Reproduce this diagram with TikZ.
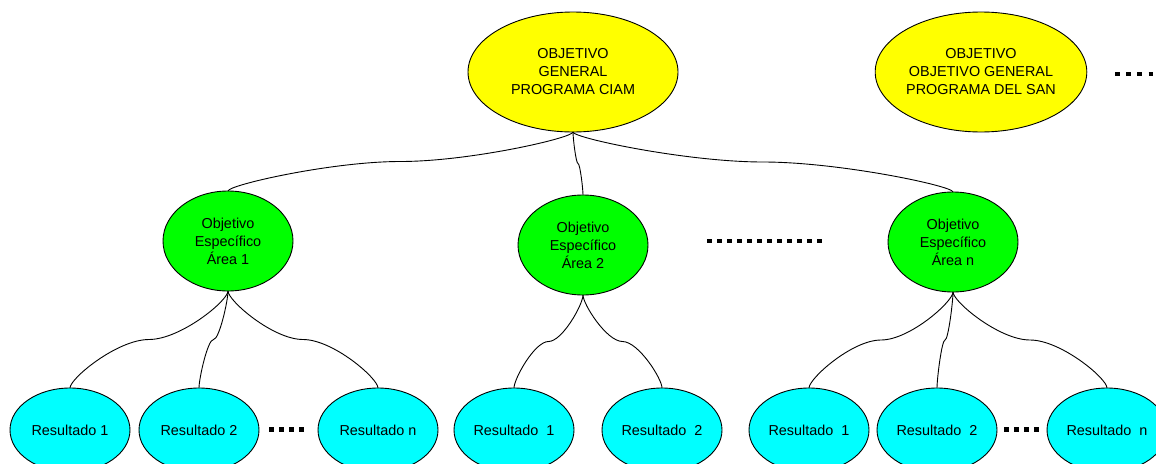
\documentclass[tikz,border=0pt]{standalone}
\usepackage{fontspec}
\setmainfont{Liberation Sans}
\usetikzlibrary{shapes.geometric,calc}

\definecolor{goalyellow}{RGB}{255,255,0}
\definecolor{areagreen}{RGB}{0,255,0}
\definecolor{resultcyan}{RGB}{0,255,255}

\tikzset{
  oval/.style={ellipse,draw=black,line width=0.9pt,inner sep=0pt,outer sep=0pt,
               align=center,font=\fontsize{14.4}{18}\selectfont},
  goal/.style={oval,fill=goalyellow,minimum width=210pt,minimum height=120pt},
  area/.style={oval,fill=areagreen,minimum width=130pt,minimum height=100pt},
  result/.style={oval,fill=resultcyan,minimum width=120pt,minimum height=84pt},
  % S-shaped connector: bends out of the parent, runs across, bends into the child
  branch/.style={line width=0.9pt,to path={
    let \p1=(\tikztostart), \p2=(\tikztotarget), \p3=($(\p1)!0.5!(\p2)$) in
    .. controls ($(\p1)+(0,0.2*\y3-0.2*\y1)$) and ($(\p3)+(0.4*\x1-0.4*\x3,0)$) .. (\p3)
    .. controls ($(\p3)+(0.4*\x2-0.4*\x3,0)$) and ($(\p2)+(0,0.2*\y3-0.2*\y2)$) .. (\p2)}},
  dotrow/.style={line width=4.6pt,line cap=butt,dash pattern=on 4.6pt off 5.4pt}
}

\begin{document}
\begin{tikzpicture}[x=1pt,y=-1pt]
\useasboundingbox (0,0) rectangle (1156,463);

% general objectives
\node[goal] (ciam) at (573,72) {OBJETIVO\\GENERAL\\PROGRAMA CIAM};
\node[goal] (san)  at (981,72) {OBJETIVO\\OBJETIVO GENERAL\\PROGRAMA DEL SAN};

% specific objectives by area
\node[area] (a1) at (228,241) {Objetivo\\Específico\\Área 1};
\node[area] (a2) at (583,245) {Objetivo\\Específico\\Área 2};
\node[area] (an) at (953,242) {Objetivo\\Específico\\Área n};

% results
\node[result] (r11) at (70,430)   {Resultado 1};
\node[result] (r12) at (199,430)  {Resultado 2};
\node[result] (r1n) at (378,430)  {Resultado n};
\node[result] (r21) at (514,430)  {Resultado~~1};
\node[result] (r22) at (662,430)  {Resultado~~2};
\node[result] (rn1) at (809,430)  {Resultado~~1};
\node[result] (rn2) at (937,430)  {Resultado~~2};
\node[result] (rnn) at (1107,430) {Resultado~~n};

% connectors
\draw[branch] (ciam.south) to (a1.north);
\draw[branch] (ciam.south) to (a2.north);
\draw[branch] (ciam.south) to (an.north);
\draw[branch] (a1.south) to (r11.north);
\draw[branch] (a1.south) to (r12.north);
\draw[branch] (a1.south) to (r1n.north);
\draw[branch] (a2.south) to (r21.north);
\draw[branch] (a2.south) to (r22.north);
\draw[branch] (an.south) to (rn1.north);
\draw[branch] (an.south) to (rn2.north);
\draw[branch] (an.south) to (rnn.north);

% ellipsis marks
\draw[dotrow] (707,241) -- (822,241);
\draw[dotrow,dash pattern=on 4.5pt off 6.7pt] (1115,74) -- (1153.1,74);
\draw[dotrow] (269,429.5) -- (304,429.5);
\draw[dotrow] (1004,429.5) -- (1039,429.5);
\end{tikzpicture}
\end{document}
